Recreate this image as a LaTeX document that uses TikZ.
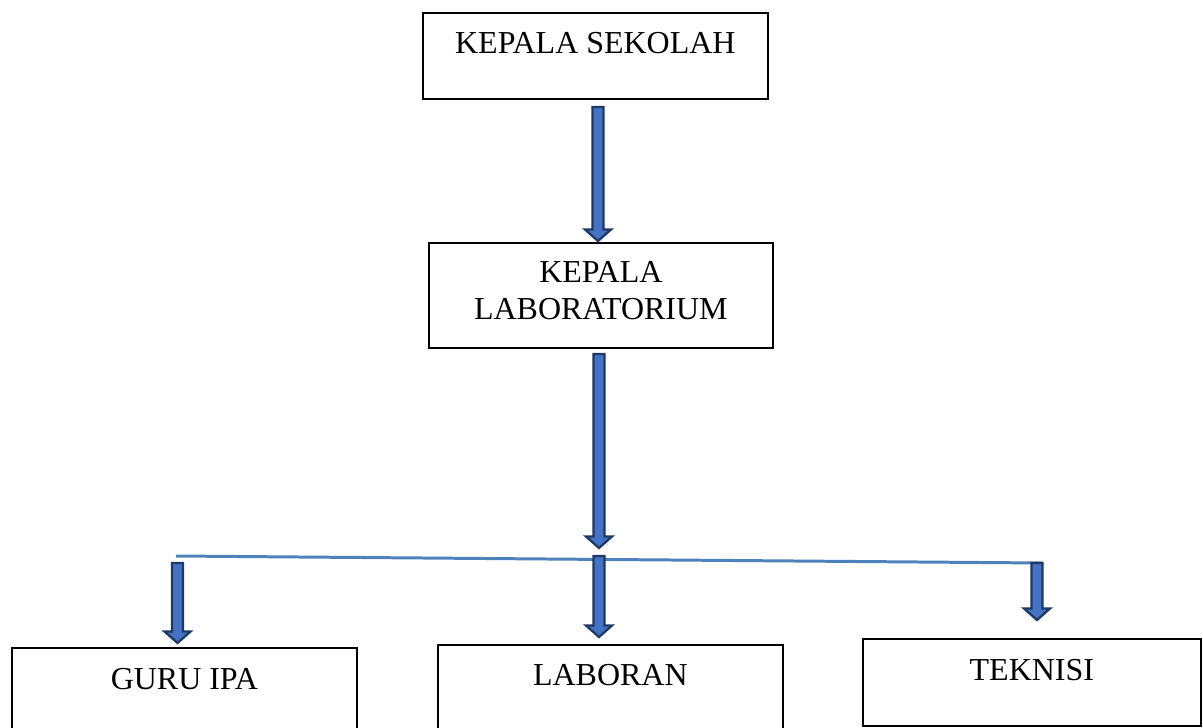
\documentclass[tikz,border=0pt]{standalone}
\usepackage{fontspec}
\setmainfont{Liberation Serif}
\usetikzlibrary{calc}
\definecolor{arrfill}{HTML}{4472C4}
\definecolor{arrline}{HTML}{1F3864}
\definecolor{barline}{HTML}{4F81BD}
\newcommand\blockarrow[2]{%
	\filldraw[blockarr] let \p1=(#1), \p2=(#2) in
		(\x1-0.11cm,\y1) -- (\x1+0.11cm,\y1) -- (\x1+0.11cm,\y2+0.23cm) -- (\x1+0.26cm,\y2+0.23cm)
		-- (\x1,\y2) -- (\x1-0.26cm,\y2+0.23cm) -- (\x1-0.11cm,\y2+0.23cm) -- cycle;}
\begin{document}
\begin{tikzpicture}[x=0.02cm,y=-0.02cm,
	box/.style={draw,line width=1pt,inner sep=0pt,anchor=north west,align=center,font=\fontsize{18.2pt}{21.06pt}\selectfont},
	blockarr/.style={fill=arrfill,draw=arrline,line width=1.3pt,line join=miter},
	bar/.style={draw=barline,line width=1.7pt}]
	\useasboundingbox (0,0) rectangle (1203,727);
	\clip (0,0) rectangle (1203,727);

	\node[box,minimum width=6.9cm,text height=0.82cm,text depth=0.9cm] (sekolah) at (422,12) {KEPALA SEKOLAH};
	\node[box,minimum width=6.88cm,text height=1.54cm,text depth=0.56cm] (lab) at (428,242) {KEPALA\\LABORATORIUM};
	\node[box,minimum width=6.9cm,text height=0.84cm,text depth=2cm] (guru) at (11,647) {GURU IPA};
	\node[box,minimum width=6.9cm,text height=0.82cm,text depth=2cm] (laboran) at (437,644) {LABORAN};
	\node[box,minimum width=6.76cm,text height=0.84cm,text depth=0.9cm] (teknisi) at (862,638) {TEKNISI};

	\coordinate (a1top) at (598,107);
	\coordinate (a1tip) at (598,241);
	\coordinate (a2top) at (599,354);
	\coordinate (a2tip) at (599,548);
	\coordinate (barl) at (176,556);
	\coordinate (barr) at (1043,563);

	\draw[bar] (barl) -- (barr);
	\blockarrow{a1top}{a1tip}
	\blockarrow{a2top}{a2tip}
	\blockarrow{177.5,563}{177.5,643}
	\blockarrow{599,556}{599,637}
	\blockarrow{1037,563}{1037,620}
\end{tikzpicture}
\end{document}
